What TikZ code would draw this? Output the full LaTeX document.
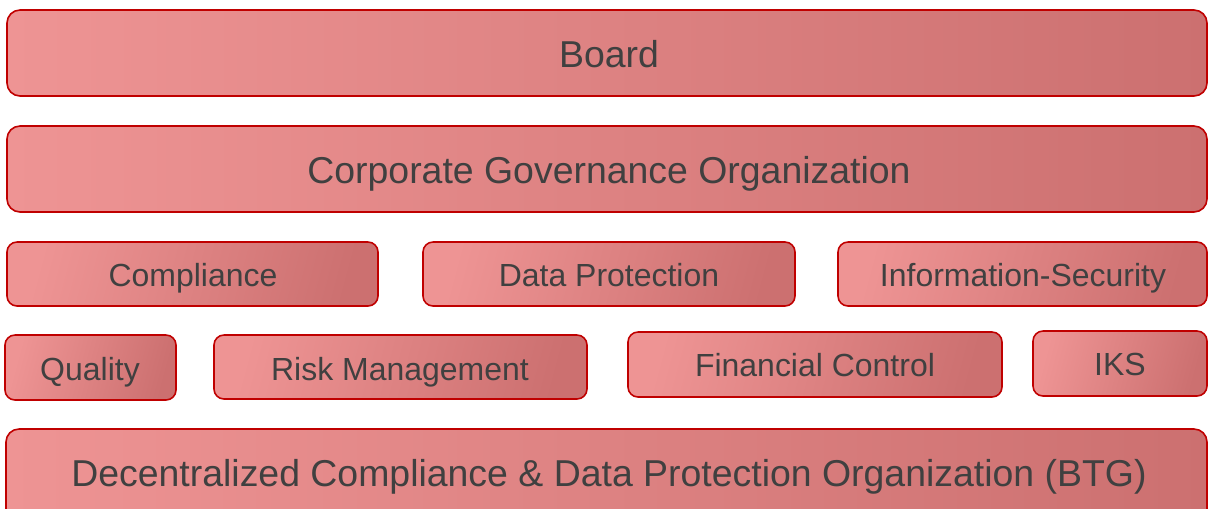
\documentclass[tikz,border=0pt]{standalone}
\usepackage{fontspec}
\setmainfont{Liberation Sans}
\definecolor{boxline}{RGB}{192,0,0}
\definecolor{boxlight}{RGB}{238,148,148}
\definecolor{boxdark}{RGB}{204,112,112}
\definecolor{textgrey}{RGB}{64,64,64}
\tikzset{
  bigbox/.style={draw=boxline,line width=0.9pt,rounded corners=0.26cm,left color=boxlight,right color=boxdark},
  smallbox/.style={draw=boxline,line width=0.9pt,rounded corners=0.2cm,left color=boxlight,right color=boxdark,shading angle=75},
  biglabel/.style={anchor=base,text=textgrey,font=\fontsize{21.3}{25}\selectfont},
  smalllabel/.style={anchor=base,text=textgrey,font=\fontsize{18.2}{22}\selectfont}
}
\begin{document}
\begin{tikzpicture}[x=0.02cm,y=-0.02cm]
\clip (0,0) rectangle (1208,508);
\fill[white] (0,0) rectangle (1208,508);
% top rows
\draw[bigbox] (7,10) rectangle (1207,96);
\draw (609,67) node[biglabel] (board) {Board};
\draw[bigbox] (7,126) rectangle (1207,212);
\draw (609,183) node[biglabel] (cgo) {Corporate Governance Organization};
% functions
\draw[smallbox] (7,242) rectangle (378,306);
\draw (193,286) node[smalllabel] (compliance) {Compliance};
\draw[smallbox] (423,242) rectangle (795,306);
\draw (609,286) node[smalllabel] (dataprot) {Data Protection};
\draw[smallbox] (838,242) rectangle (1207,306);
\draw (1023,286) node[smalllabel] (infosec) {Information-Security};
\draw[smallbox] (5,335) rectangle (176,400);
\draw (90,380) node[smalllabel] (quality) {Quality};
\draw[smallbox] (214,335) rectangle (587,399);
\draw (400,380) node[smalllabel] (risk) {Risk Management};
\draw[smallbox] (628,332) rectangle (1002,397);
\draw (815,376) node[smalllabel] (fincontrol) {Financial Control};
\draw[smallbox] (1033,331) rectangle (1207,396);
\draw (1120,375) node[smalllabel] (iks) {IKS};
% bottom
\draw[bigbox] (6,429) rectangle (1207,540);
\draw (609,486) node[biglabel] (btg) {Decentralized Compliance \& Data Protection Organization (BTG)};
\end{tikzpicture}
\end{document}
